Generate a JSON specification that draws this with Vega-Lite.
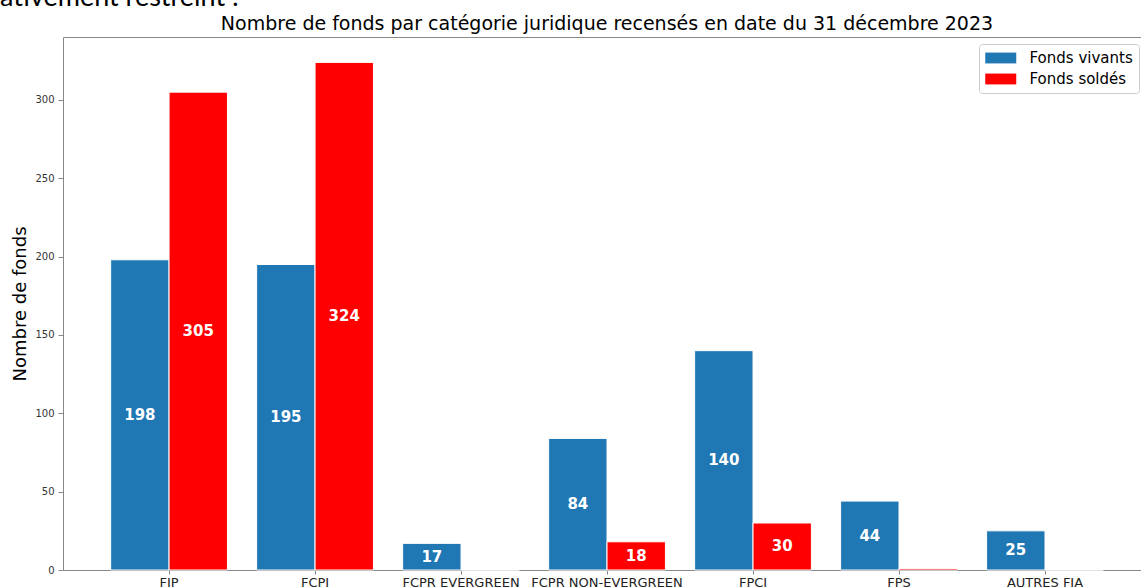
{
  "$schema": "https://vega.github.io/schema/vega-lite/v6.json",
  "padding": {"left": 0, "top": -16, "right": 0, "bottom": 0},
  "background": "white",
  "title": {"text": "ativement restreint :", "anchor": "start", "frame": "group", "font": "Lato", "fontSize": 27, "fontWeight": "normal", "color": "#000000", "dx": -63, "offset": 3},
  "config": {"view": {"stroke": null}, "font": "DejaVu Sans"},
  "vconcat": [
    {
      "width": 1078,
      "height": 533,
      "title": {"text": "Nombre de fonds par catégorie juridique recensés en date du 31 décembre 2023", "anchor": "middle", "font": "DejaVu Sans", "fontSize": 19, "fontWeight": "normal", "color": "#000000", "offset": 3, "dx": 5},
      "data": {"values": [
        {"categorie": "FIP", "serie": "Fonds vivants", "valeur": 198},
        {"categorie": "FIP", "serie": "Fonds soldés", "valeur": 305},
        {"categorie": "FCPI", "serie": "Fonds vivants", "valeur": 195},
        {"categorie": "FCPI", "serie": "Fonds soldés", "valeur": 324},
        {"categorie": "FCPR EVERGREEN", "serie": "Fonds vivants", "valeur": 17},
        {"categorie": "FCPR EVERGREEN", "serie": "Fonds soldés", "valeur": 0},
        {"categorie": "FCPR NON-EVERGREEN", "serie": "Fonds vivants", "valeur": 84},
        {"categorie": "FCPR NON-EVERGREEN", "serie": "Fonds soldés", "valeur": 18},
        {"categorie": "FPCI", "serie": "Fonds vivants", "valeur": 140},
        {"categorie": "FPCI", "serie": "Fonds soldés", "valeur": 30},
        {"categorie": "FPS", "serie": "Fonds vivants", "valeur": 44},
        {"categorie": "FPS", "serie": "Fonds soldés", "valeur": 1},
        {"categorie": "AUTRES FIA", "serie": "Fonds vivants", "valeur": 25},
        {"categorie": "AUTRES FIA", "serie": "Fonds soldés", "valeur": 0}
      ]},
      "encoding": {
        "xOffset": {"field": "serie", "type": "nominal", "sort": ["Fonds vivants", "Fonds soldés"], "scale": {"paddingInner": 0, "paddingOuter": 0}}
      },
      "layer": [
        {
          "mark": {"type": "bar", "stroke": "white", "strokeWidth": 1},
          "encoding": {
            "x": {"field": "categorie", "type": "nominal", "sort": null,
              "scale": {"paddingInner": 0.2, "paddingOuter": 0.292, "align": 0.559, "round": false},
              "axis": {"title": null, "labelAngle": 0, "labelFont": "DejaVu Sans", "labelFontSize": 13, "labelColor": "#222222", "tickColor": "#888888", "domainColor": "#888888", "tickSize": 4, "labelPadding": 2, "labelOverlap": false, "grid": false}},
            "y": {"field": "valeur", "type": "quantitative", "scale": {"domain": [0, 340.2], "nice": false},
              "axis": {"title": "Nombre de fonds", "titleFont": "DejaVu Sans", "titleFontSize": 18, "titleFontWeight": "normal", "titleColor": "#000000", "titlePadding": 5, "values": [0, 50, 100, 150, 200, 250, 300], "labelFont": "DejaVu Sans", "labelFontSize": 10, "labelColor": "#333333", "tickSize": 5, "labelPadding": 4, "grid": false, "domainColor": "#888888", "tickColor": "#888888"}},
            "color": {"field": "serie", "type": "nominal",
              "scale": {"domain": ["Fonds vivants", "Fonds soldés"], "range": ["#1f77b4", "#ff0000"]},
              "legend": {"title": null, "orient": "none", "legendX": 916, "legendY": 7, "symbolType": "M-2,-0.7H2V0.7H-2Z", "symbolSize": 240, "symbolOffset": 7.75, "symbolStrokeWidth": 0, "symbolOpacity": 1, "labelFont": "DejaVu Sans", "labelFontSize": 15, "labelColor": "#000000", "labelOffset": 20.75, "strokeColor": "#cccccc", "fillColor": "white", "padding": 6, "cornerRadius": 3, "rowPadding": 5}}
          }
        },
        {
          "transform": [{"filter": "datum.valeur > 1"}],
          "mark": {"type": "text", "color": "white", "font": "DejaVu Sans", "fontWeight": "bold", "fontSize": 15, "baseline": "middle"},
          "encoding": {
            "x": {"field": "categorie", "type": "nominal", "sort": null,
              "axis": {"orient": "top", "labels": false, "ticks": false, "title": null, "domainColor": "#888888", "grid": false}},
            "y": {"field": "valeur", "type": "quantitative", "scale": {"domain": [0, 680.4], "nice": false}, "axis": null},
            "text": {"field": "valeur", "type": "quantitative"}
          }
        }
      ],
      "resolve": {"scale": {"y": "independent"}, "axis": {"x": "independent"}}
    }
  ]
}
